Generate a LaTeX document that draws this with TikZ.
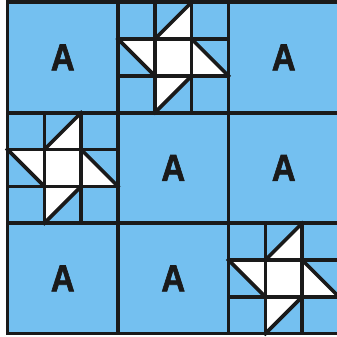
\documentclass[tikz,border=0pt]{standalone}
\usepackage{fontspec}
\newfontfamily\quiltfont[FakeStretch=0.88, BoldFeatures={FakeBold=1.6}]{Liberation Sans}
\usepackage{tikz}
\usetikzlibrary{shapes,fit}
\definecolor{quiltblue}{RGB}{116,192,240}
\definecolor{seam}{RGB}{26,26,26}

\begin{document}
\begin{tikzpicture}[x=3cm, y=3cm,
    seamline/.style={draw=seam, line width=2.8pt, line cap=rect},
    letter/.style={text=seam, font=\quiltfont\bfseries\fontsize{29}{29}\selectfont}]
    \useasboundingbox (-0.068,-0.030) rectangle (2.982,3.020);

    % Background
    \fill[quiltblue] (0,0) rectangle (3,3);

    % Plain blocks
    \foreach \c/\r [count=\i] in {0/2, 2/2, 1/1, 2/1, 0/0, 1/0}
        \node[letter] (a\i) at (\c+0.5, \r+0.5) {A};

    % Star blocks
    \foreach \c/\r in {1/2, 0/1, 2/0} {
        \begin{scope}[shift={(\c,\r)}, scale=1/3]
            % white patches
            \fill[white] (1,1) rectangle (2,2);
            \fill[white] (1,2) -- (2,3) -- (2,2) -- cycle;
            \fill[white] (0,2) -- (1,2) -- (1,1) -- cycle;
            \fill[white] (2,2) -- (2,1) -- (3,1) -- cycle;
            \fill[white] (1,1) -- (2,1) -- (1,0) -- cycle;
            % seams
            \foreach \k in {1,2} {
                \draw[seamline] (\k,0) -- (\k,3);
                \draw[seamline] (0,\k) -- (3,\k);
            }
            \draw[seamline] (1,2) -- (2,3);
            \draw[seamline] (0,2) -- (1,1);
            \draw[seamline] (2,2) -- (3,1);
            \draw[seamline] (2,1) -- (1,0);
        \end{scope}
    }

    % Block grid
    \foreach \k in {1,2} {
        \draw[seamline] (\k,0) -- (\k,3);
        \draw[seamline] (0,\k) -- (3,\k);
    }
    \draw[seamline] (0,0) rectangle (3,3);
\end{tikzpicture}
\end{document}
